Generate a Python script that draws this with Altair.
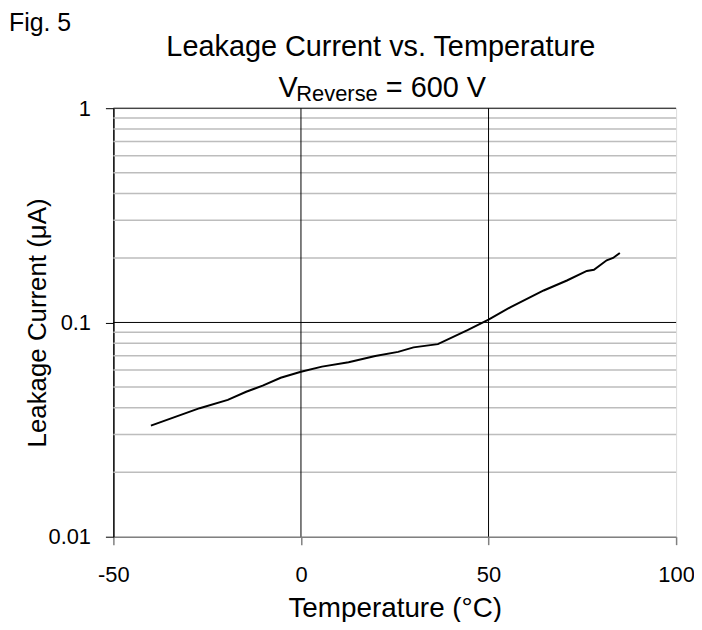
import altair as alt
import pandas as pd

# Data
temps = [-40, -27, -19.5, -14.6, -10.2, -5.4, 0, 5.6, 12.7, 19.8, 25.9, 30, 36.5,
         44.4, 50, 55.9, 64.7, 70.9, 76.2, 78.1, 81.5, 83.2, 85]
leak = [0.033, 0.0398, 0.0435, 0.0475, 0.0507, 0.0552, 0.0589, 0.0622, 0.0652,
        0.0697, 0.0729, 0.0765, 0.0792, 0.092, 0.103, 0.118, 0.141, 0.157, 0.174,
        0.176, 0.195, 0.2, 0.211]

x_ticks = [-50, 0, 50, 100]
y_ticks = [0.01, 0.1, 1]
minor_y = [0.02, 0.03, 0.04, 0.05, 0.06, 0.07, 0.08, 0.09,
           0.2, 0.3, 0.4, 0.5, 0.6, 0.7, 0.8, 0.9]
major_y = [0.1, 1]
major_x = [0, 50]

FONT = "Liberation Sans"

df = pd.DataFrame({"T": temps, "I": leak})

xscale = alt.Scale(domain=[-50, 100], nice=False, zero=False)
yscale = alt.Scale(type="log", domain=[0.01, 1], nice=False)

xaxis = alt.Axis(values=x_ticks, title="Temperature (°C)", grid=False,
                 labelExpr="datum.value + ''",
                 domainColor="#808080", domainWidth=1.5, tickColor="#808080",
                 tickWidth=1.5, tickSize=8, labelFontSize=22, labelFont=FONT,
                 labelColor="black", labelBaseline="alphabetic", labelPadding=37,
                 labelFlush=False,
                 titleFontSize=28, titleFont=FONT, titleFontWeight="normal",
                 titleColor="black", titleY=80, titleBaseline="alphabetic")
yaxis = alt.Axis(values=y_ticks, format="~g", title="Leakage Current (μA)", grid=False,
                 domainColor="black", domainWidth=1.5, tickColor="black",
                 tickSize=8, labelFontSize=22, labelFont=FONT, labelColor="black",
                 labelPadding=15, labelFlush=False,
                 titleFontSize=26, titleFont=FONT, titleFontWeight="normal",
                 titleColor="black", titleX=-76, titleAngle=-90,
                 titleAlign="center", titleBaseline="middle")

minor = alt.Chart(pd.DataFrame({"y": minor_y})).mark_rule(
    color="#bdbdbd", strokeWidth=1.5
).encode(y=alt.Y("y:Q", scale=yscale, axis=yaxis))

major_h = alt.Chart(pd.DataFrame({"y": major_y})).mark_rule(
    color="black", strokeWidth=1
).encode(y=alt.Y("y:Q", scale=yscale, axis=yaxis))

major_v = alt.Chart(pd.DataFrame({"x": major_x})).mark_rule(
    color="black", strokeWidth=1
).encode(x=alt.X("x:Q", scale=xscale, axis=xaxis))

line = alt.Chart(df).mark_line(color="black", strokeWidth=2).encode(
    x=alt.X("T:Q", scale=xscale, axis=xaxis),
    y=alt.Y("I:Q", scale=yscale, axis=yaxis),
)


def txt(s, x, y, size, align="left"):
    return alt.Chart(pd.DataFrame({"t": [s]})).mark_text(
        align=align, baseline="alphabetic", font=FONT, fontSize=size, color="black"
    ).encode(text="t:N", x=alt.value(x), y=alt.value(y))


fig = txt("Fig. 5", -105, -78, 25)
title = txt("Leakage Current vs. Temperature", 269, -53, 29, align="center")
sub_v = txt("V", 166, -11, 29)
sub_r = txt("Reverse", 184, -7, 22)
sub_rest = txt("= 600 V", 274, -11, 29)

chart = alt.layer(
    minor, major_h, major_v, line, fig, title, sub_v, sub_r, sub_rest
).resolve_scale(x="shared", y="shared").properties(
    width=566, height=431,
    autosize=alt.AutoSizeParams(type="none"),
    padding={"left": 106, "top": 99, "right": 18, "bottom": 84},
).configure_view(stroke=None).configure(background="white")

chart.save("out.html", embed_options={"renderer": "svg", "actions": False})
